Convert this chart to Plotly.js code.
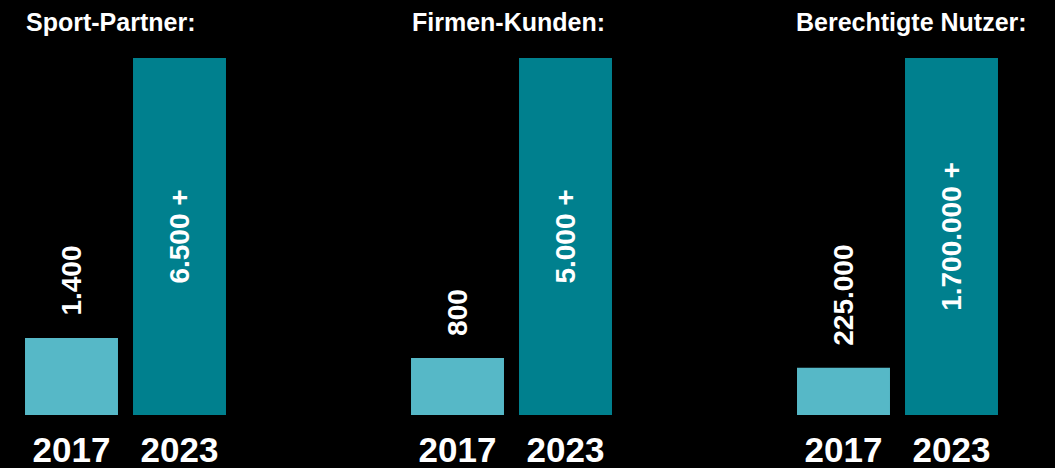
<!DOCTYPE html>
<html>
<head>
<meta charset="utf-8">
<script src="https://cdn.plot.ly/plotly-3.0.1.min.js"></script>
<style>html,body{margin:0;padding:0;background:#000;}#chart{width:1055px;height:468px;}</style>
</head>
<body>
<div id="chart"></div>
<script>
const years = ['2017', '2023'];
const panelTitles = ['Sport-Partner:', 'Firmen-Kunden:', 'Berechtigte Nutzer:'];
const sportPartner = [1400, 6500];
const firmenKunden = [800, 5000];
const berechtigteNutzer = [225000, 1700000];
const valueLabels = [
  ['1.400', '6.500 +'],
  ['800', '5.000 +'],
  ['225.000', '1.700.000 +']
];
const series = [sportPartner, firmenKunden, berechtigteNutzer];

const W = 1055, H = 468;
const FONT = '"Liberation Sans", Arial, sans-serif';
const colLight = '#56B8C7';
const colDark = '#00808E';
const panelLeft = [17.5, 403.5, 789.5];
const titleLeft = [24, 410, 794];
const panelWidth = 216;
const yDom = [(H - 415) / H, (H - 58) / H];

const traces = [];
const annotations = [];
const layout = {
  width: W, height: H,
  paper_bgcolor: '#000', plot_bgcolor: '#000',
  margin: {l: 0, r: 0, t: 0, b: 0},
  showlegend: false,
  bargap: 0.139,
  font: {family: FONT, color: '#fff'},
  annotations: annotations
};

series.forEach((vals, i) => {
  const n = i === 0 ? '' : String(i + 1);
  traces.push({
    type: 'bar',
    x: years, y: vals,
    xaxis: 'x' + n, yaxis: 'y' + n,
    marker: {color: [colLight, colDark], line: {width: 0}},
    text: ['', valueLabels[i][1]],
    textposition: 'inside',
    insidetextanchor: 'middle',
    textangle: -90,
    constraintext: 'none',
    textfont: {family: FONT, size: 28, color: '#fff', weight: 'bold'},
    hoverinfo: 'none'
  });
  layout['xaxis' + n] = {
    domain: [panelLeft[i] / W, (panelLeft[i] + panelWidth) / W],
    anchor: 'y' + n,
    type: 'category',
    range: [-0.5, 1.5],
    showgrid: false, zeroline: false, showline: false,
    ticks: '',
    ticklabelstandoff: 11,
    tickfont: {family: FONT, size: 35, color: '#fff', weight: 'bold'},
    fixedrange: true
  };
  layout['yaxis' + n] = {
    domain: yDom,
    anchor: 'x' + n,
    range: [0, Math.max(...vals)],
    showgrid: false, zeroline: false, showline: false,
    showticklabels: false, ticks: '',
    fixedrange: true
  };
  annotations.push({
    xref: 'x' + n, yref: 'y' + n,
    x: years.indexOf(years[0]), y: vals[0],
    text: '<b>' + valueLabels[i][0] + '</b>',
    showarrow: false,
    textangle: -90,
    xanchor: 'center', yanchor: 'bottom',
    yshift: 20,
    font: {family: FONT, size: 28, color: '#fff'}
  });
  annotations.push({
    xref: 'paper', yref: 'paper',
    x: titleLeft[i] / W, y: (H - 22) / H,
    xanchor: 'left', yanchor: 'middle',
    text: '<b>' + panelTitles[i] + '</b>',
    showarrow: false,
    font: {family: FONT, size: 25, color: '#fff'}
  });
});

Plotly.newPlot('chart', traces, layout, {displayModeBar: false, staticPlot: true});
</script>
</body>
</html>
